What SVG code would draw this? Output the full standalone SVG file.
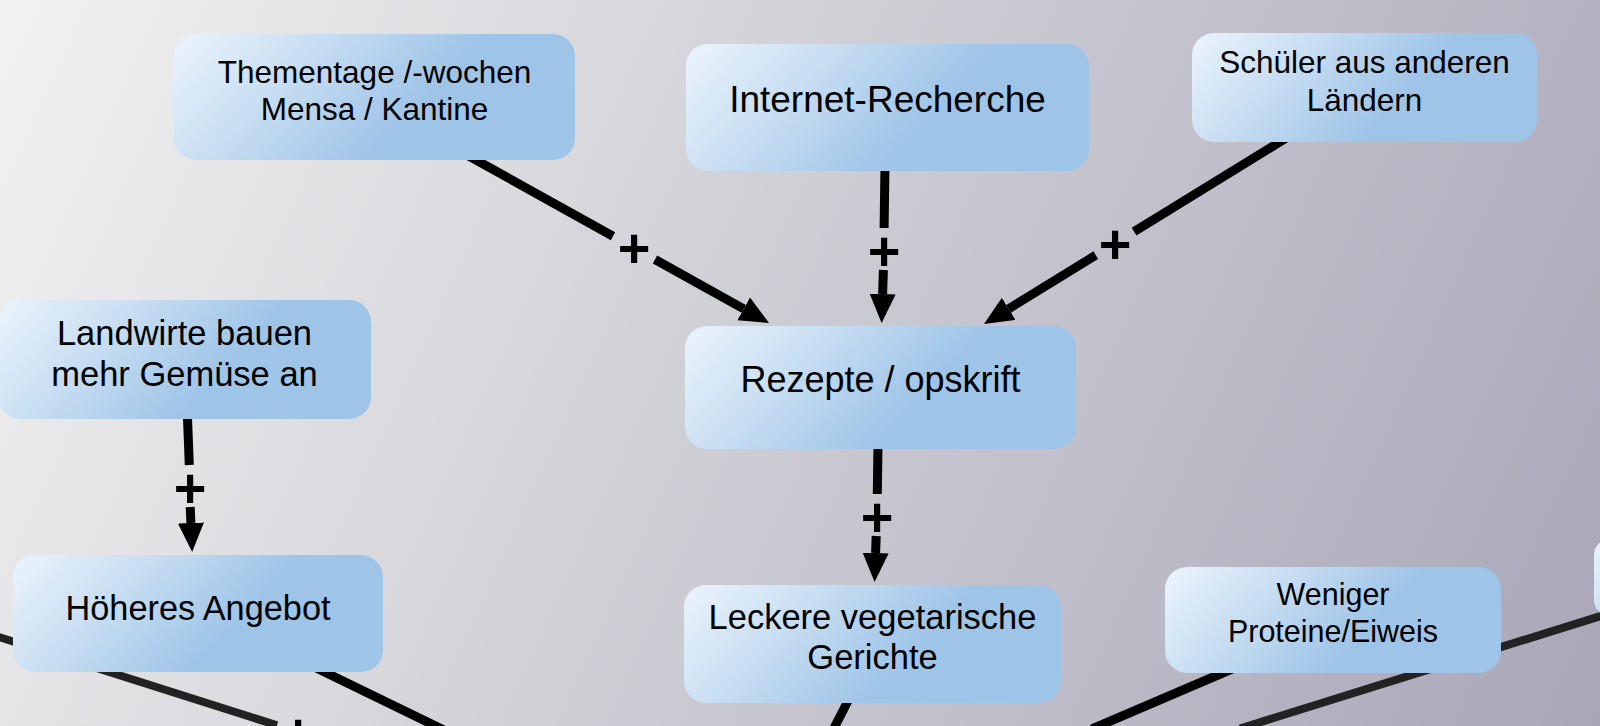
<svg xmlns="http://www.w3.org/2000/svg" width="1600" height="726" viewBox="0 0 1600 726">
<defs>
<linearGradient id="bg" gradientUnits="userSpaceOnUse" x1="0" y1="0" x2="1600" y2="726">
<stop offset="0" stop-color="#f2f2f2"/>
<stop offset="0.45" stop-color="#cfcfd6"/>
<stop offset="1" stop-color="#a9a6b8"/>
</linearGradient>
<linearGradient id="ng" x1="0" y1="0" x2="1" y2="0.3">
<stop offset="0" stop-color="#ecf4fc"/>
<stop offset="0.4" stop-color="#c2daf0"/>
<stop offset="0.72" stop-color="#9ec4e8"/>
<stop offset="1" stop-color="#9ec4e8"/>
</linearGradient>
<marker id="ah" markerUnits="userSpaceOnUse" markerWidth="30" markerHeight="28" refX="0" refY="13" orient="auto" viewBox="0 0 30 28">
<path d="M0,0 L29,13 L0,26 Z" fill="#000"/>
</marker>
<style>
.node{fill:url(#ng);}
.t{font-family:"Liberation Sans",Arial,sans-serif;fill:#000;text-anchor:middle;}
.c{stroke:#000;stroke-width:9;fill:none;}
.g{stroke:#222;stroke-width:8;fill:none;}
.p{font-family:"Liberation Sans",Arial,sans-serif;font-weight:bold;font-size:56px;fill:#000;text-anchor:middle;}
</style>
</defs>
<rect x="0" y="0" width="1600" height="726" fill="url(#bg)"/>
<g id="connectors">
<line class="g" x1="-20" y1="631" x2="277" y2="725.3"/>
<line class="c" x1="270" y1="645.5" x2="470" y2="742.7"/>
<line class="c" x1="850" y1="697" x2="833" y2="730"/>
<line class="c" x1="1239" y1="666" x2="1092" y2="729"/>
<line class="g" x1="1620" y1="610" x2="1240" y2="728.5"/>
<line class="c" x1="448" y1="144.5" x2="613" y2="236.2"/>
<line class="c" x1="655" y1="259.5" x2="743.7" y2="308.9" marker-end="url(#ah)"/>
<line class="c" x1="885" y1="165" x2="884.1" y2="228"/>
<line class="c" x1="883.4" y1="270" x2="882.6" y2="294" marker-end="url(#ah)"/>
<line class="c" x1="1290.8" y1="135.1" x2="1134.1" y2="231.6"/>
<line class="c" x1="1095.8" y1="255.2" x2="1008.7" y2="308.8" marker-end="url(#ah)"/>
<line class="c" x1="187" y1="405" x2="189.3" y2="465"/>
<line class="c" x1="190.2" y1="507" x2="190.9" y2="523" marker-end="url(#ah)"/>
<line class="c" x1="878" y1="445" x2="877.3" y2="494"/>
<line class="c" x1="876.2" y1="536" x2="875.6" y2="553" marker-end="url(#ah)"/>
<text class="p" x="634" y="267">+</text>
<text class="p" x="884" y="270">+</text>
<text class="p" x="1115" y="263">+</text>
<text class="p" x="190" y="507">+</text>
<text class="p" x="877" y="536">+</text>
<text class="p" x="298" y="752">+</text>
</g>
<g id="n-thementage">
<rect class="node" x="174" y="34" width="401" height="126" rx="22"/>
<text class="t" x="374.5" y="83" font-size="31.5">Thementage /-wochen</text>
<text class="t" x="374.5" y="120" font-size="31.5">Mensa / Kantine</text>
</g>
<g id="n-internet">
<rect class="node" x="686" y="44" width="403" height="127" rx="22"/>
<text class="t" x="887.5" y="112" font-size="37">Internet-Recherche</text>
</g>
<g id="n-schueler">
<rect class="node" x="1192" y="33" width="345" height="109" rx="22"/>
<text class="t" x="1364.5" y="73" font-size="31.5">Schüler aus anderen</text>
<text class="t" x="1364.5" y="111" font-size="31.5">Ländern</text>
</g>
<g id="n-landwirte">
<rect class="node" x="-2" y="300" width="373" height="119" rx="22"/>
<text class="t" x="184.5" y="345" font-size="34.5">Landwirte bauen</text>
<text class="t" x="184.5" y="386" font-size="34.5">mehr Gemüse an</text>
</g>
<g id="n-rezepte">
<rect class="node" x="685" y="326" width="391" height="123" rx="22"/>
<text class="t" x="880.5" y="392" font-size="36">Rezepte / opskrift</text>
</g>
<g id="n-hoeheres">
<rect class="node" x="13" y="555" width="370" height="117" rx="22"/>
<text class="t" x="198" y="620" font-size="34.3">Höheres Angebot</text>
</g>
<g id="n-leckere">
<rect class="node" x="684" y="585" width="377" height="118" rx="22"/>
<text class="t" x="872.5" y="629" font-size="34.5">Leckere vegetarische</text>
<text class="t" x="872.5" y="669" font-size="34.5">Gerichte</text>
</g>
<g id="n-weniger">
<rect class="node" x="1165" y="567" width="336" height="106" rx="22"/>
<text class="t" x="1333" y="605" font-size="30.5">Weniger</text>
<text class="t" x="1333" y="642" font-size="30.5">Proteine/Eiweis</text>
</g>
<g id="n-right">
<rect class="node" x="1594" y="539" width="200" height="77" rx="16"/>
</g>
</svg>
